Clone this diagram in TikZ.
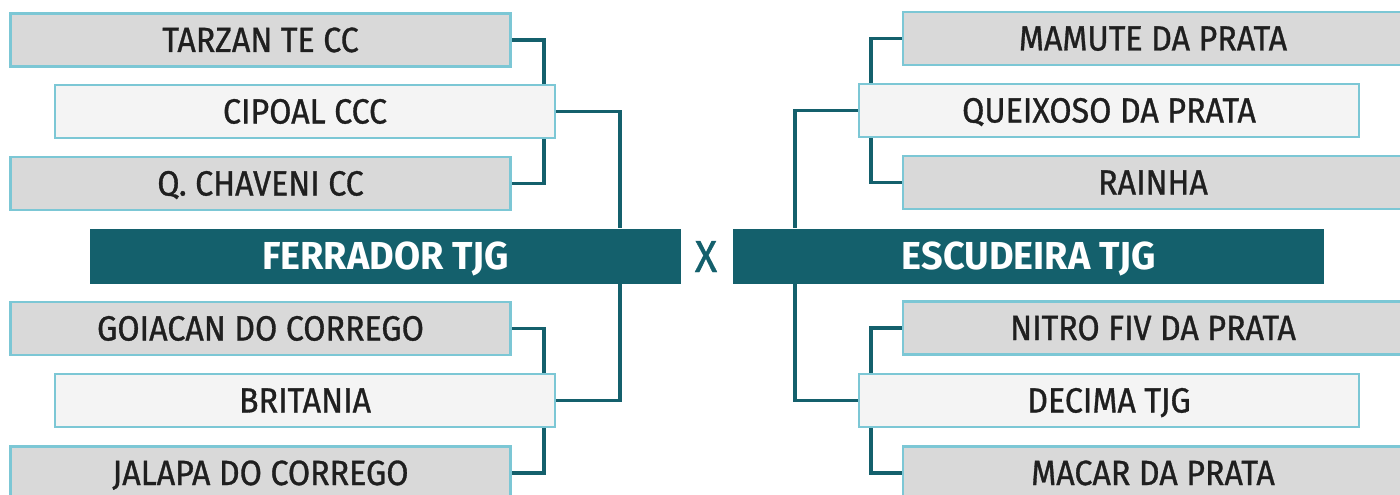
\documentclass[tikz,border=0pt]{standalone}
\usepackage{fontspec}
\setmainfont{Fira Sans}
\newfontfamily\teamfont{Fira Sans}[FakeStretch=0.92, FakeBold=0.9]
\newfontfamily\headfont{Fira Sans}[FakeStretch=0.97]
\usetikzlibrary{backgrounds}
\definecolor{teal1}{HTML}{14606C}
\definecolor{greyfill}{HTML}{D9D9D9}
\definecolor{lightfill}{HTML}{F4F4F4}
\definecolor{bordercol}{HTML}{7CC7D5}
\tikzset{
  team/.style={rectangle, draw=bordercol, line width=2.5pt, minimum width=500, minimum height=53,
    inner sep=0pt, text height=24pt, text depth=0pt, font=\teamfont\fontsize{35}{35}\selectfont, text=black!88},
  gbox/.style={team, fill=greyfill},
  lbox/.style={team, fill=lightfill},
  head/.style={rectangle, fill=teal1, minimum width=591, minimum height=55, inner sep=0pt,
    text height=27pt, text depth=0pt, font=\headfont\bfseries\fontsize{39}{39}\selectfont, text=white},
  conn/.style={draw=teal1, line width=3.8pt}
}
\begin{document}
\begin{tikzpicture}[x=1pt,y=-1pt]
\useasboundingbox (0,0) rectangle (1400,495);
\clip (0,0) rectangle (1400,495);
% left
\node[gbox] (tarzan) at (260.5,40) {TARZAN TE CC};
\node[lbox] (cipoal) at (305,111.5) {CIPOAL CCC};
\node[gbox] (chaveni) at (260.5,183.5) {Q. CHAVENI CC};
\node[head] (ferrador) at (385.5,256) {FERRADOR TJG};
\node[gbox] (goiacan) at (260.5,328.5) {GOIACAN DO CORREGO};
\node[lbox] (britania) at (305,400.5) {BRITANIA};
\node[gbox] (jalapa) at (260.5,473) {JALAPA DO CORREGO};
% middle
\node[text=teal1, inner sep=0pt, text height=32pt, text depth=0pt, font=\teamfont\fontsize{45}{45}\selectfont] (vs) at (706,256) {X};
% right
\node[gbox] (mamute) at (1153,38.5) {MAMUTE DA PRATA};
\node[lbox] (queixoso) at (1109,110.5) {QUEIXOSO DA PRATA};
\node[gbox] (rainha) at (1153,182.5) {RAINHA};
\node[head] (escudeira) at (1028.75,256) {ESCUDEIRA TJG};
\node[gbox] (nitro) at (1153,328) {NITRO FIV DA PRATA};
\node[lbox] (decima) at (1109,400.5) {DECIMA TJG};
\node[gbox] (macar) at (1153,473) {MACAR DA PRATA};
\begin{scope}[on background layer]
\draw[conn] (tarzan.east) -- ++(32,0) |- (chaveni.east);
\draw[conn] (cipoal.east) -- ++(64,0) coordinate (c1) -- (c1 |- ferrador.north);
\draw[conn] (goiacan.east) -- ++(32,0) |- (jalapa.east);
\draw[conn] (britania.east) -- ++(64,0) coordinate (c2) -- (c2 |- ferrador.south);
\draw[conn] (mamute.west) -- ++(-31,0) |- (rainha.west);
\draw[conn] (queixoso.west) -- ++(-63,0) coordinate (c3) -- (c3 |- escudeira.north);
\draw[conn] (nitro.west) -- ++(-31,0) |- (macar.west);
\draw[conn] (decima.west) -- ++(-63,0) coordinate (c4) -- (c4 |- escudeira.south);
\end{scope}
\end{tikzpicture}
\end{document}
